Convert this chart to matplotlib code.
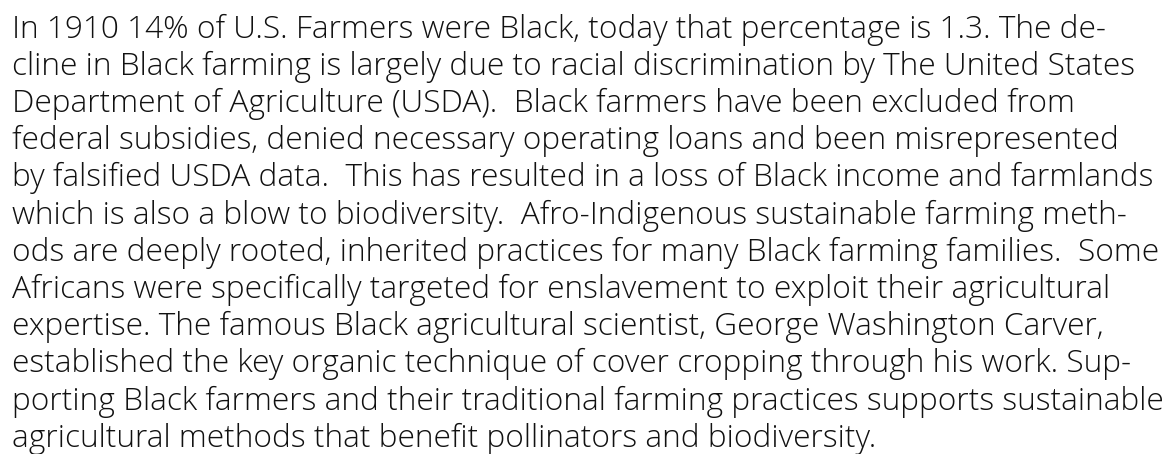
import matplotlib
matplotlib.use("Agg")
import matplotlib.pyplot as plt

lines = [
    "In 1910 14% of U.S. Farmers were Black, today that percentage is 1.3. The de-",
    "cline in Black farming is largely due to racial discrimination by The United States",
    "Department of Agriculture (USDA).  Black farmers have been excluded from",
    "federal subsidies, denied necessary operating loans and been misrepresented",
    "by falsified USDA data.  This has resulted in a loss of Black income and farmlands",
    "which is also a blow to biodiversity.  Afro-Indigenous sustainable farming meth-",
    "ods are deeply rooted, inherited practices for many Black farming families.  Some",
    "Africans were specifically targeted for enslavement to exploit their agricultural",
    "expertise. The famous Black agricultural scientist, George Washington Carver,",
    "established the key organic technique of cover cropping through his work. Sup-",
    "porting Black farmers and their traditional farming practices supports sustainable",
    "agricultural methods that benefit pollinators and biodiversity.",
]

W, H, DPI = 1167, 454, 100
FONT = "Open Sans"
LEFT = 12
FIRST_BASE = 37.5
STEP = 37.2
REF_LINE = 6
REF_RIGHT = 1158

fig = plt.figure(figsize=(W / DPI, H / DPI), dpi=DPI)
fig.patch.set_facecolor("white")

fs0 = 20
probe = fig.text(0, 0, lines[REF_LINE], fontsize=fs0, family=FONT, weight="light")
fig.canvas.draw()
w0 = probe.get_window_extent().width
probe.remove()
fs = fs0 * (REF_RIGHT - LEFT) / w0

for i, s in enumerate(lines):
    y = FIRST_BASE + i * STEP
    fig.text(LEFT / W, 1 - y / H, s, fontsize=fs, family=FONT, weight="light",
             color="#111111", ha="left", va="baseline")

fig.savefig("out.png", dpi=DPI, facecolor="white")
